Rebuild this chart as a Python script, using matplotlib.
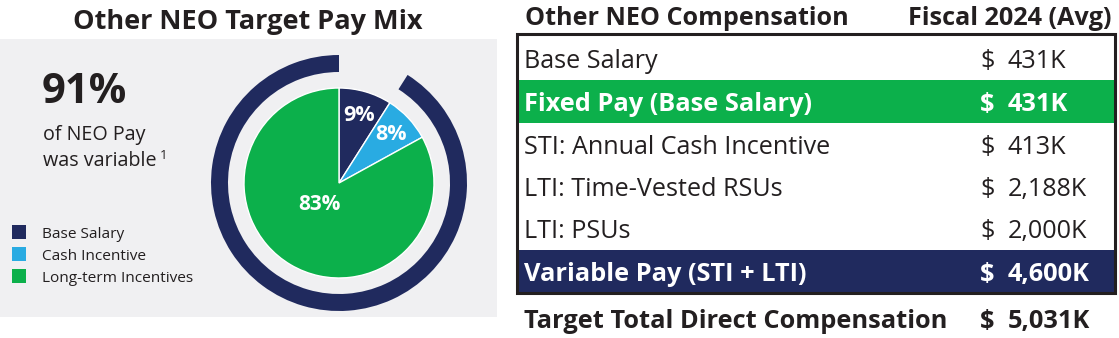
import matplotlib
matplotlib.use("Agg")
import matplotlib.pyplot as plt
from matplotlib.patches import Rectangle, Wedge

# ---------------- data ----------------
mix_labels = ["Base Salary", "Cash Incentive", "Long-term Incentives"]
mix_values = [9, 8, 83]
variable_pct = 91

row_labels = ["Base Salary", "Fixed Pay (Base Salary)", "STI: Annual Cash Incentive",
              "LTI: Time-Vested RSUs", "LTI: PSUs", "Variable Pay (STI + LTI)"]
row_values = [431, 431, 413, 2188, 2000, 4600]
total_label = "Target Total Direct Compensation"
total_value = 5031

# ---------------- style ----------------
NAVY = "#202a5e"
BLUE = "#29abe2"
GREEN = "#0cb04b"
GRAY = "#f0f0f2"
TXT = "#231f20"
mix_colors = [NAVY, BLUE, GREEN]
FONT = ["Open Sans", "DejaVu Sans"]
plt.rcParams["font.family"] = FONT

W, H = 1119, 338
fig = plt.figure(figsize=(W / 100, H / 100), dpi=100)
ax = fig.add_axes([0, 0, 1, 1])


def Y(y):
    return H - y


# ---------------- left panel ----------------
ax.add_patch(Rectangle((0, Y(317)), 497, 317 - 39, facecolor=GRAY, edgecolor="none", zorder=0))
ax.text(248, Y(29), "Other NEO Target Pay Mix", ha="center", va="baseline",
        fontsize=19.5, fontweight="bold", color=TXT)

cx, cy, R = 339, Y(183), 95
wedges, _, autotexts = ax.pie(
    mix_values, colors=mix_colors, startangle=90, counterclock=False,
    center=(cx, cy), radius=R, autopct=lambda p: f"{p:.0f}%", pctdistance=0.745,
    wedgeprops=dict(edgecolor="white", linewidth=1.0),
    textprops=dict(color="white", fontsize=15.5, fontweight="bold"), frame=True)
for t in autotexts:
    t.set_va("center")
autotexts[2].set_position((cx - 19.5, cy - 22))
autotexts[2].set_fontsize(15)

span = variable_pct / 100 * 360
ax.add_patch(Wedge((cx, cy), 128, 90, 90 + span, width=17, facecolor=NAVY, edgecolor="none"))

ax.text(42, Y(103), f"{variable_pct}%", ha="left", va="baseline", fontsize=30,
        fontweight="bold", color=TXT)
ax.text(43, Y(140), "of NEO Pay", ha="left", va="baseline", fontsize=14.2, color=TXT)
ax.text(43, Y(166), "was variable", ha="left", va="baseline", fontsize=14.2, color=TXT)
ax.text(160, Y(159), "1", ha="left", va="baseline", fontsize=9.5, color=TXT)

leg_base = [238, 260, 282]
for lab, col, yb in zip(mix_labels, mix_colors, leg_base):
    ax.add_patch(Rectangle((12, Y(yb + 1)), 14, 14, facecolor=col, edgecolor="none"))
    ax.text(42, Y(yb), lab, ha="left", va="baseline", fontsize=11.1, color=TXT)

# ---------------- right table ----------------
ax.text(525, Y(25), "Other NEO Compensation", ha="left", va="baseline",
        fontsize=18.1, fontweight="bold", color=TXT)
ax.text(1111, Y(25), "Fiscal 2024 (Avg)", ha="right", va="baseline",
        fontsize=18.2, fontweight="bold", color=TXT)

bounds = [35, 80, 123, 166, 208, 250, 293]
highlight = {1: GREEN, 5: NAVY}
for i, (lab, val) in enumerate(zip(row_labels, row_values)):
    top, bot = bounds[i], bounds[i + 1]
    fc = highlight.get(i, "white")
    ax.add_patch(Rectangle((517, Y(bot)), 1115 - 517, bot - top, facecolor=fc,
                           edgecolor="none", zorder=1))
    bold = i in highlight
    col = "white" if bold else TXT
    yb = bot - 12
    kw = dict(va="baseline", fontsize=18.3 if bold else 18.1, color=col,
              fontweight="bold" if bold else "normal", zorder=3)
    ax.text(524, Y(yb), lab, ha="left", **kw)
    ax.text(980, Y(yb), "$", ha="left", **kw)
    ax.text(1008, Y(yb), f"{val:,}K", ha="left", **kw)

ax.add_patch(Rectangle((517, Y(293)), 1115 - 517, 293 - 34, facecolor="none",
                       edgecolor=TXT, linewidth=2.2, zorder=4))

kw = dict(va="baseline", fontsize=18.3, color=TXT, fontweight="bold")
ax.text(524, Y(328), total_label, ha="left", **kw)
ax.text(980, Y(328), "$", ha="left", **kw)
ax.text(1008, Y(328), f"{total_value:,}K", ha="left", **kw)

ax.set_xlim(0, W)
ax.set_ylim(0, H)
ax.set_aspect("auto")
ax.axis("off")
fig.savefig("out.png", dpi=100, facecolor="white")
